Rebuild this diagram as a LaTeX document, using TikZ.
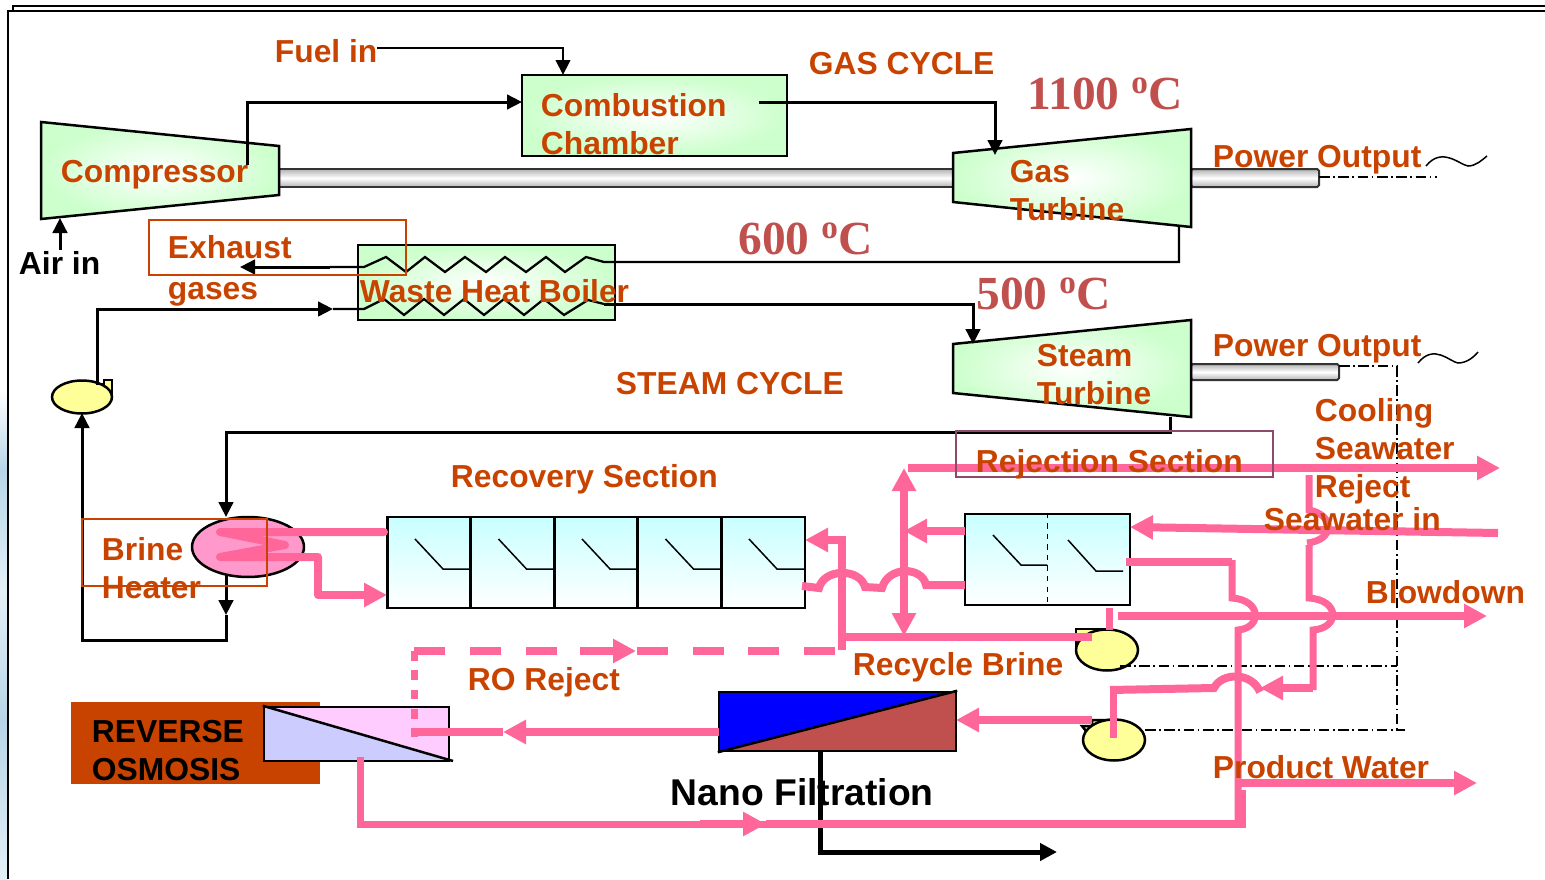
\documentclass[tikz,border=0pt]{standalone}
\usepackage{fontspec}
\setmainfont{Liberation Sans}
\newfontfamily\tempfont{Liberation Serif}
\usetikzlibrary{arrows.meta,shapes.geometric}
\definecolor{labelbrown}{HTML}{C84300}
\definecolor{pipepink}{HTML}{FF6699}
\definecolor{tempred}{HTML}{C0504D}
\definecolor{greenfill}{HTML}{CCFFCC}
\definecolor{stagecyan}{HTML}{C8FFFF}
\definecolor{plumline}{HTML}{8B4A6B}
\definecolor{pumpyellow}{HTML}{FFFF99}
\definecolor{heaterpink}{HTML}{FF99CC}
\definecolor{rolilac}{HTML}{CCCCFF}
\definecolor{rorose}{HTML}{FFCCFF}
\definecolor{edgeblue}{HTML}{B7D5E6}
\definecolor{edgepale}{HTML}{E3F0F8}
\tikzset{
  label/.style={anchor=west,inner sep=0pt,xshift=-0.008cm,align=left,text=labelbrown,font=\fontsize{18.1}{21.6}\selectfont\bfseries},
  blacklabel/.style={label,text=black},
  templabel/.style={anchor=base west,inner sep=0pt,text=tempred,font=\fontsize{27}{27}\selectfont\tempfont\bfseries},
  pipe/.style={draw=black,line width=0.6mm},
  coil/.style={draw=black,line width=0.45mm},
  flow/.style={pipe,-{Triangle[length=0.3cm,width=0.29cm]}},
  brine/.style={draw=pipepink,line width=0.16cm},
  brinethin/.style={draw=pipepink,line width=0.14cm},
  brineflow/.style={brine,-{Triangle[length=0.46cm,width=0.46cm]}},
  signal/.style={draw=black,line width=0.25mm,dash pattern=on 6pt off 2pt on 1pt off 2pt},
  greenpart/.style={draw=black,line width=0.5mm,inner color=white,outer color=greenfill},
  shaft/.style={draw=black!80,line width=0.4mm,top color=black!30,bottom color=black!30,middle color=white},
  stagebox/.style={draw=black,line width=0.5mm,top color=stagecyan,bottom color=white,minimum width=1.67cm,minimum height=1.82cm,inner sep=0pt},
  pumpbody/.style={draw=black,line width=0.5mm,fill=pumpyellow,ellipse,inner sep=0pt},
  pumpneck/.style={draw=black,line width=0.5mm,fill=pumpyellow},
  outlinebox/.style={draw=labelbrown,line width=0.25mm,minimum height=1.1cm,inner sep=0pt}
}
\begin{document}
\begin{tikzpicture}[x=0.02cm,y=-0.02cm]
  \useasboundingbox (0,0) rectangle (1545,879);

  % frame
  \shade[top color=white,bottom color=edgeblue] (0,390) rectangle (7,470);
  \shade[top color=edgeblue,bottom color=edgepale] (0,470) rectangle (7,590);
  \shade[top color=edgepale,bottom color=edgeblue] (0,590) rectangle (7,720);
  \shade[top color=edgeblue,bottom color=edgepale] (0,720) rectangle (7,879);
  \draw[line width=0.4mm] (13,11) -- (13,6) -- (1545,6);
  \draw[line width=0.4mm] (8,879) -- (8,11) -- (1545,11);

  % shafts
  \draw[shaft] (279,169) rectangle (953,187);
  \draw[shaft,rounded corners=1pt] (1191,169) rectangle (1319,187);
  \draw[shaft,rounded corners=1pt] (1191,364) rectangle (1339,380);

  % machines
  \path[greenpart,draw] (41,122) -- (279,146) -- (279,195) -- (41,219) -- cycle;
  \path[greenpart,draw] (953,153) -- (1191,129) -- (1191,227) -- (953,202) -- cycle;
  \path[greenpart,draw] (953,344) -- (1191,320) -- (1191,417) -- (953,393) -- cycle;
  \node[greenpart,draw,minimum width=5.3cm,minimum height=1.62cm,inner sep=0pt] (chamber) at (654.5,115.5) {};
  \node[greenpart,draw,minimum width=5.14cm,minimum height=1.5cm,inner sep=0pt] (boiler) at (486.5,282.5) {};

  % feed pump
  \draw[pumpneck] (112,380) -- (112,397) -- (96,397) -- (96,384) -- (104,384) -- (104,380) -- cycle;
  \node[pumpbody,minimum width=1.2cm,minimum height=0.66cm] (pumpa) at (82,397) {};

  % end points
  \coordinate (fuel) at (377,48);
  \coordinate (chambertop) at (563,75);
  \coordinate (compout) at (247,165);
  \coordinate (chamberin) at (522,102);
  \coordinate (chamberout) at (759,102);
  \coordinate (gasin) at (995,155);
  \coordinate (airstart) at (60,250);
  \coordinate (airend) at (60,218);
  \coordinate (gasout) at (1179,227);
  \coordinate (exhausttip) at (240,267);
  \coordinate (steamin) at (973,344);
  \coordinate (steamout) at (1170,417);
  \coordinate (heatertop) at (226,517);
  \coordinate (heaterlow) at (226,573);
  \coordinate (pumptip) at (82,413);
  \coordinate (pumpout) at (97,385);
  \coordinate (feedtip) at (333,309);

  % gas and steam lines
  \draw[flow,line width=0.45mm] (fuel) -| (chambertop);
  \draw[flow] (compout) |- (chamberin);
  \draw[flow] (chamberout) -| (gasin);
  \draw[flow] (airstart) -- (airend);
  \draw[coil] (gasout) |- (604,262) -- (586,257) -- (565,272) -- (546,257) -- (526,272) -- (505,257) -- (486,272) -- (465,257) -- (445,272) -- (425,257) -- (406,272) -- (386,257) -- (364,267) -- (330,267);
  \draw[flow] (330,267) -- (exhausttip);
  \draw[flow] (pumpout) |- (feedtip);
  \draw[coil] (feedtip) -- (364,309) -- (384,299) -- (404,315) -- (424,299) -- (444,315) -- (464,299) -- (484,315) -- (504,299) -- (524,315) -- (544,299) -- (564,315) -- (588,300) -- (604,304);
  \draw[flow] (604,304) -| (steamin);
  \draw[flow] (steamout) |- (432,432) -| (heatertop);
  \draw[flow] (heaterlow) -- (226,615);
  \draw[flow] (226,615) |- (150,640) -| (pumptip);

  % stages
  \foreach \n/\x in {1/429,2/512.5,3/596,4/679.5,5/763}{
    \node[stagebox] (stage\n) at (\x,562.5) {};
    \draw[line width=0.3mm] (\x-14,539) -- (\x+14,569) -- (\x+42,569);
  }
  \node[stagebox,minimum width=3.3cm] (reject) at (1047.5,559.5) {};
  \draw[line width=0.3mm,dashed] (reject.north) -- (reject.south);
  \draw[line width=0.3mm] (993,535) -- (1021,565) -- (1047,565);
  \draw[line width=0.3mm] (1068,540) -- (1096,571) -- (1123,571);

  % pumps
  \draw[pumpneck] (1076,629) -- (1107,629) -- (1107,650) -- (1076,650) -- cycle;
  \node[pumpbody,minimum width=1.24cm,minimum height=0.82cm] (pumpb) at (1107,650) {};
  \draw[pumpneck] (1082,726) -- (1092,726) -- (1092,720) -- (1114,720) -- (1114,740) -- (1086,731) -- cycle;
  \node[pumpbody,minimum width=1.24cm,minimum height=0.82cm] (pumpc) at (1114,740) {};

  % heater
  \node[pumpbody,fill=heaterpink,minimum width=2.24cm,minimum height=1.2cm] (heater) at (248,547) {};

  % membranes
  \node[fill=labelbrown,minimum width=4.98cm,minimum height=1.64cm,inner sep=0pt] (roback) at (195.5,743) {};
  \fill[blue] (719,751) -- (719,692) -- (956,692) -- cycle;
  \fill[tempred] (719,751) -- (956,692) -- (956,751) -- cycle;
  \node[draw=black,line width=0.5mm,minimum width=4.74cm,minimum height=1.18cm,inner sep=0pt] (nano) at (837.5,721.5) {};
  \draw[line width=0.5mm] (nano.south west) -- (nano.north east);
  \fill[rolilac] (264,707) -- (449,761) -- (264,761) -- cycle;
  \fill[rorose] (264,707) -- (449,707) -- (449,761) -- cycle;
  \node[draw=black,line width=0.5mm,minimum width=3.7cm,minimum height=1.08cm,inner sep=0pt] (membrane) at (356.5,734) {};
  \draw[line width=0.5mm] (membrane.north west) -- (453,761);

  % text under the lines
  \node[blacklabel,font=\fontsize{21.2}{24}\selectfont\bfseries] (nanotext) at (671,792) {Nano Filtration};

  % nano product
  \coordinate (nanoout) at (820,751);
  \coordinate (nanotip) at (1057,852);
  \draw[line width=1mm,-{Triangle[length=0.34cm,width=0.34cm]}] (nanoout) |- (nanotip);

  % signals
  \coordinate (shaftone) at (1319,177);
  \coordinate (shafttwo) at (1339,366);
  \coordinate (signalbend) at (1397,366);
  \coordinate (pumpbsignal) at (1120,666);
  \coordinate (pumpcsignal) at (1145,730);
  \draw[signal] (shaftone) -- (1437,177);
  \draw[signal] (shafttwo) -- (signalbend) -- (1397,730);
  \draw[signal] (pumpbsignal) -- (1397,666);
  \draw[signal] (pumpcsignal) -- (1405,730);
  \draw[line width=0.3mm] (1426,166) .. controls (1442,146) and (1460,165) .. (1468,166) .. controls (1476,166) and (1482,160) .. (1487,156);
  \draw[line width=0.3mm] (1418,363) .. controls (1434,343) and (1450,362) .. (1458,363) .. controls (1466,363) and (1473,358) .. (1478,352);

  % brine lines
  \coordinate (heatbrine) at (384,532);
  \coordinate (heatback) at (387,595);
  \draw[brine,line cap=round,line join=round] (heatbrine) -- (220,532) -- (285,545) -- (220,557) -- (318,557) -- (318,580);
  \draw[brineflow,line join=round] (318,557) |- (heatback);
  \coordinate (seatop) at (908,468);
  \coordinate (seaend) at (1500,468);
  \coordinate (splitup) at (904,468);
  \coordinate (splitdown) at (904,636);
  \coordinate (rejectout) at (965,531);
  \coordinate (rejectlow) at (965,585);
  \coordinate (recyclein) at (805,540);
  \coordinate (recyclepump) at (1092,637);
  \coordinate (seain) at (1498,533);
  \coordinate (seatip) at (1130,527);
  \coordinate (blowstart) at (1118,616);
  \coordinate (blowend) at (1487,616);
  \coordinate (productstart) at (1238,783);
  \coordinate (productend) at (1477,783);
  \coordinate (nfin) at (956,720);
  \coordinate (nfstart) at (1092,720);
  \coordinate (nfout) at (719,732);
  \coordinate (rotip) at (503,732);
  \coordinate (roin) at (418,732);
  \coordinate (roout) at (360,757);
  \coordinate (ropass) at (766,824);
  \coordinate (rejecttop) at (1309,475);
  \coordinate (pumpfeed) at (1113,738);
  \coordinate (feedend) at (1260,688);
  \coordinate (stubtop) at (1109,608);
  \coordinate (stubend) at (1109,630);
  \coordinate (hooktop) at (1126,562);
  \coordinate (dashstart) at (835,651);
  \coordinate (dashbend) at (414,651);
  \coordinate (dashend) at (414,737);
  \coordinate (dashtip) at (636,651);
  \draw[brineflow] (seatop) -- (seaend);
  \draw[brineflow] (904,553) -- (splitup);
  \draw[brineflow] (904,553) -- (splitdown);
  \draw[brineflow] (rejectout) -- (904,531);
  \draw[brine] (rejectlow) -- (926,585) .. controls (922,566) and (888,566) .. (882,588) -- (865,587) .. controls (860,568) and (824,568) .. (819,588) -- (802,586);
  \draw[brine] (recyclepump) -- (838,637);
  \draw[brineflow] (842,650) |- (recyclein);
  \draw[brine,dash pattern=on 17.6pt off 14.1pt] (dashstart) -- (dashbend);
  \draw[brineflow] (580,651) -- (dashtip);
  \draw[brinethin,dash pattern=on 5.5pt off 5.5pt] (dashbend) -- (dashend);
  \draw[brineflow] (seain) -- (seatip);
  \draw[brinethin] (rejecttop) -- (1309,510) .. controls (1335,515) and (1335,540) .. (1307,543);
  \draw[brinethin] (1309,545) -- (1309,598) .. controls (1340,600) and (1340,628) .. (1313,630) -- (1313,690);
  \draw[brineflow] (1313,688) -- (feedend);
  \draw[brineflow] (blowstart) -- (blowend);
  \draw[brinethin] (stubtop) -- (stubend);
  \draw[brinethin] (pumpfeed) -- (1113,690);
  \draw[brine] (1110,690) -- (1214,688) .. controls (1222,672) and (1252,672) .. (1260,692);
  \draw[brineflow] (nfstart) -- (nfin);
  \draw[brine] (hooktop) -- (1232,562);
  \draw[brinethin] (1232,560) -- (1232,598) .. controls (1262,600) and (1262,628) .. (1238,630) -- (1238,824);
  \draw[brineflow] (productstart) -- (productend);
  \draw[brineflow] (nfout) -- (rotip);
  \draw[brine] (rotip) -- (roin);
  \draw[brinethin] (roout) |- (ropass);
  \draw[brineflow] (700,824) -- (ropass);
  \draw[brine] (ropass) -- (1242,824) -- (1242,790);

  % outline boxes
  \node[outlinebox,minimum width=5.14cm] (exhaustbox) at (277.5,247.5) {};
  \node[outlinebox,minimum width=3.7cm,minimum height=1.34cm] (heaterbox) at (174.5,552.5) {};
  \node[outlinebox,draw=plumline,minimum width=6.34cm,minimum height=0.92cm] (rejectionbox) at (1114.5,454) {};

  % labels
  \node[label] (fuellabel) at (275,51) {Fuel in};
  \node[label] (gascycle) at (809,64) {GAS CYCLE};
  \node[label] (chamberlabel) at (541,124) {Combustion\\Chamber};
  \node[label] (complabel) at (61,175) {Compressor};
  \node[label] (gaslabel) at (1010,191) {Gas\\Turbine};
  \node[label] (powerone) at (1213,160) {Power Output};
  \node[blacklabel] (airlabel) at (19,263) {Air in};
  \node[label] (exhaustlabel) at (168,271) {Exhaust\\[2pt]gases};
  \node[label] (boilerlabel) at (360,291) {Waste Heat Boiler};
  \node[label] (steamlabel) at (1037,375) {Steam\\Turbine};
  \node[label] (powertwo) at (1213,349) {Power Output};
  \node[label] (steamcycle) at (616,384) {STEAM CYCLE};
  \node[label] (coolinglabel) at (1315,429) {Cooling\\Seawater};
  \node[label] (recoverylabel) at (451,479) {Recovery Section};
  \node[label] (rejectionlabel) at (976,464) {Rejection Section};
  \node[label] (rejectlabel) at (1315,489) {Reject};
  \node[label] (sealabel) at (1264,519) {Seawater in};
  \node[label] (brinelabel) at (102,568) {Brine\\Heater};
  \node[label] (blowlabel) at (1366,592) {Blowdown};
  \node[label] (recyclelabel) at (853,667) {Recycle Brine};
  \node[label] (rolabel) at (468,682) {RO Reject};
  \node[blacklabel] (rolabeltwo) at (92,751) {REVERSE\\OSMOSIS};
  \node[label] (productlabel) at (1213,767) {Product Water};
  \node[templabel] (tempa) at (1027,109) {1100 \textsuperscript{o}C};
  \node[templabel] (tempb) at (738,254) {600 \textsuperscript{o}C};
  \node[templabel] (tempc) at (976,309) {500 \textsuperscript{o}C};
\end{tikzpicture}
\end{document}
